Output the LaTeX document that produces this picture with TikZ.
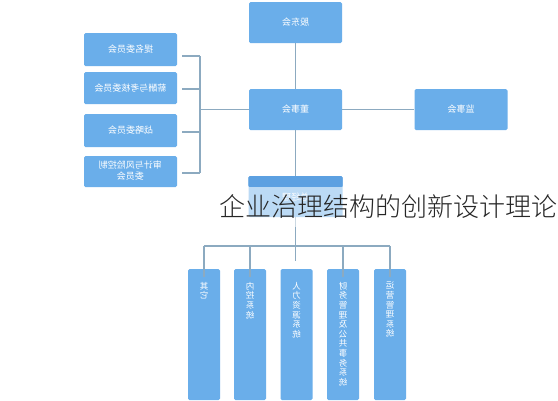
\documentclass[tikz,border=0pt]{standalone}
\usepackage{fontspec}
\newfontfamily\cjk{Noto Sans CJK SC}
\newfontfamily\cjklight{Noto Sans CJK SC Light}
\definecolor{boxblue}{RGB}{106,174,234}
\definecolor{boxtop}{RGB}{92,160,225}
\definecolor{linegray}{RGB}{140,170,192}
\tikzset{
  box/.style={fill=boxblue, rounded corners=1.5pt, inner sep=0pt, text=white,
    font=\cjk\fontsize{9}{11}\selectfont, align=center},
  conn/.style={draw=linegray, line width=1.2pt},
}
\newcommand{\mir}[1]{\reflectbox{#1}}
\newcommand{\vmir}[1]{\reflectbox{\vbox{\baselineskip=9.6pt\lineskiplimit=-10pt #1}}}
\newcommand{\ch}[1]{\hbox{#1}}
\begin{document}
\begin{tikzpicture}[x=1pt,y=-1pt]
\useasboundingbox (0,0) rectangle (558,400);
\fill[white] (0,0) rectangle (558,400);
% main column
\node[box, minimum width=93pt, minimum height=41pt] (gd) at (295.5,22.5) {\mir{股东会}};
\node[box, minimum width=93pt, minimum height=41pt] (ds) at (295.5,109.5) {\mir{董事会}};
\node[box, minimum width=93pt, minimum height=41pt] (js) at (461,109.5) {\mir{监事会}};
\node[box, minimum width=94pt, minimum height=41pt, anchor=north] (jl) at (295.5,176) {\mir{总经理}};
% committees
\node[box, minimum width=93pt, minimum height=33pt] (c1) at (130.5,49.5) {\mir{提名委员会}};
\node[box, minimum width=93pt, minimum height=32pt] (c2) at (130.5,88) {\mir{薪酬与考核委员会}};
\node[box, minimum width=93pt, minimum height=33pt] (c3) at (130.5,130.5) {\mir{战略委员会}};
\node[box, minimum width=93pt, minimum height=31pt, font=\cjk\fontsize{9}{10.5}\selectfont] (c4) at (130.5,171.5) {\mir{\begin{tabular}{@{}c@{}}审计与风险控制\\委员会\end{tabular}}};
% bottom systems
\tikzset{sys/.style={box, minimum width=32pt, minimum height=131pt, anchor=north}}
\node[sys] (s1) at (204,269) {};
\node[sys] (s2) at (250,269) {};
\node[sys] (s3) at (296.5,269) {};
\node[sys] (s4) at (343,269) {};
\node[sys] (s5) at (390,269) {};
\tikzset{vt/.style={text=white, font=\cjk\fontsize{8.5}{9.6}\selectfont, anchor=north, inner sep=0pt}}
\node[vt] (t1) at ([yshift=-13pt]s1.north) {\vmir{\ch{其}\ch{它}}};
\node[vt] (t2) at ([yshift=-13pt]s2.north) {\vmir{\ch{内}\ch{控}\ch{系}\ch{统}}};
\node[vt] (t3) at ([yshift=-13pt]s3.north) {\vmir{\ch{人}\ch{力}\ch{资}\ch{源}\ch{系}\ch{统}}};
\node[vt] (t4) at ([yshift=-13pt]s4.north) {\vmir{\ch{财}\ch{务}\ch{管}\ch{理}\ch{及}\ch{公}\ch{共}\ch{事}\ch{务}\ch{系}\ch{统}}};
\node[vt] (t5) at ([yshift=-13pt]s5.north) {\vmir{\ch{运}\ch{营}\ch{管}\ch{理}\ch{系}\ch{统}}};
% connectors main
\draw[conn] (gd.south) -- (ds.north);
\draw[conn] (ds.east) -- (js.west);
\draw[conn] (ds.south) -- (jl.north);
% committee bracket
\coordinate (bx) at (200,109.5);
\draw[conn] (ds.west) -- (bx);
\draw[conn] (200,56) -- (200,173);
\foreach \c/\y in {c1/56, c2/89, c3/132, c4/173}{
  \draw[conn] ([xshift=5pt]\c.east |- 0,\y) -- (200,\y);
}
% bottom bus
\coordinate (bus) at (295.5,246);
\draw[conn] (jl.south) -- (bus);
\draw[conn] (204,246) -- (390,246);
\foreach \s in {s1,s2,s4,s5}{
  \draw[conn] (\s.north |- bus) -- ([yshift=-8pt]\s.north);
}
\draw[conn] (bus) -- (295.5,261);
% darker top strip of middle box
\fill[boxtop, rounded corners=1.5pt] (jl.north west) rectangle ([yshift=-11pt]jl.north east);
% semi-transparent band with title
\fill[white, opacity=0.55] (215,187) rectangle (558,227);
\node[font=\cjklight\fontsize{26}{28}\selectfont, text=black!85, inner sep=0pt, anchor=west] (title) at (219,207) {企业治理结构的创新设计理论};
\end{tikzpicture}
\end{document}
